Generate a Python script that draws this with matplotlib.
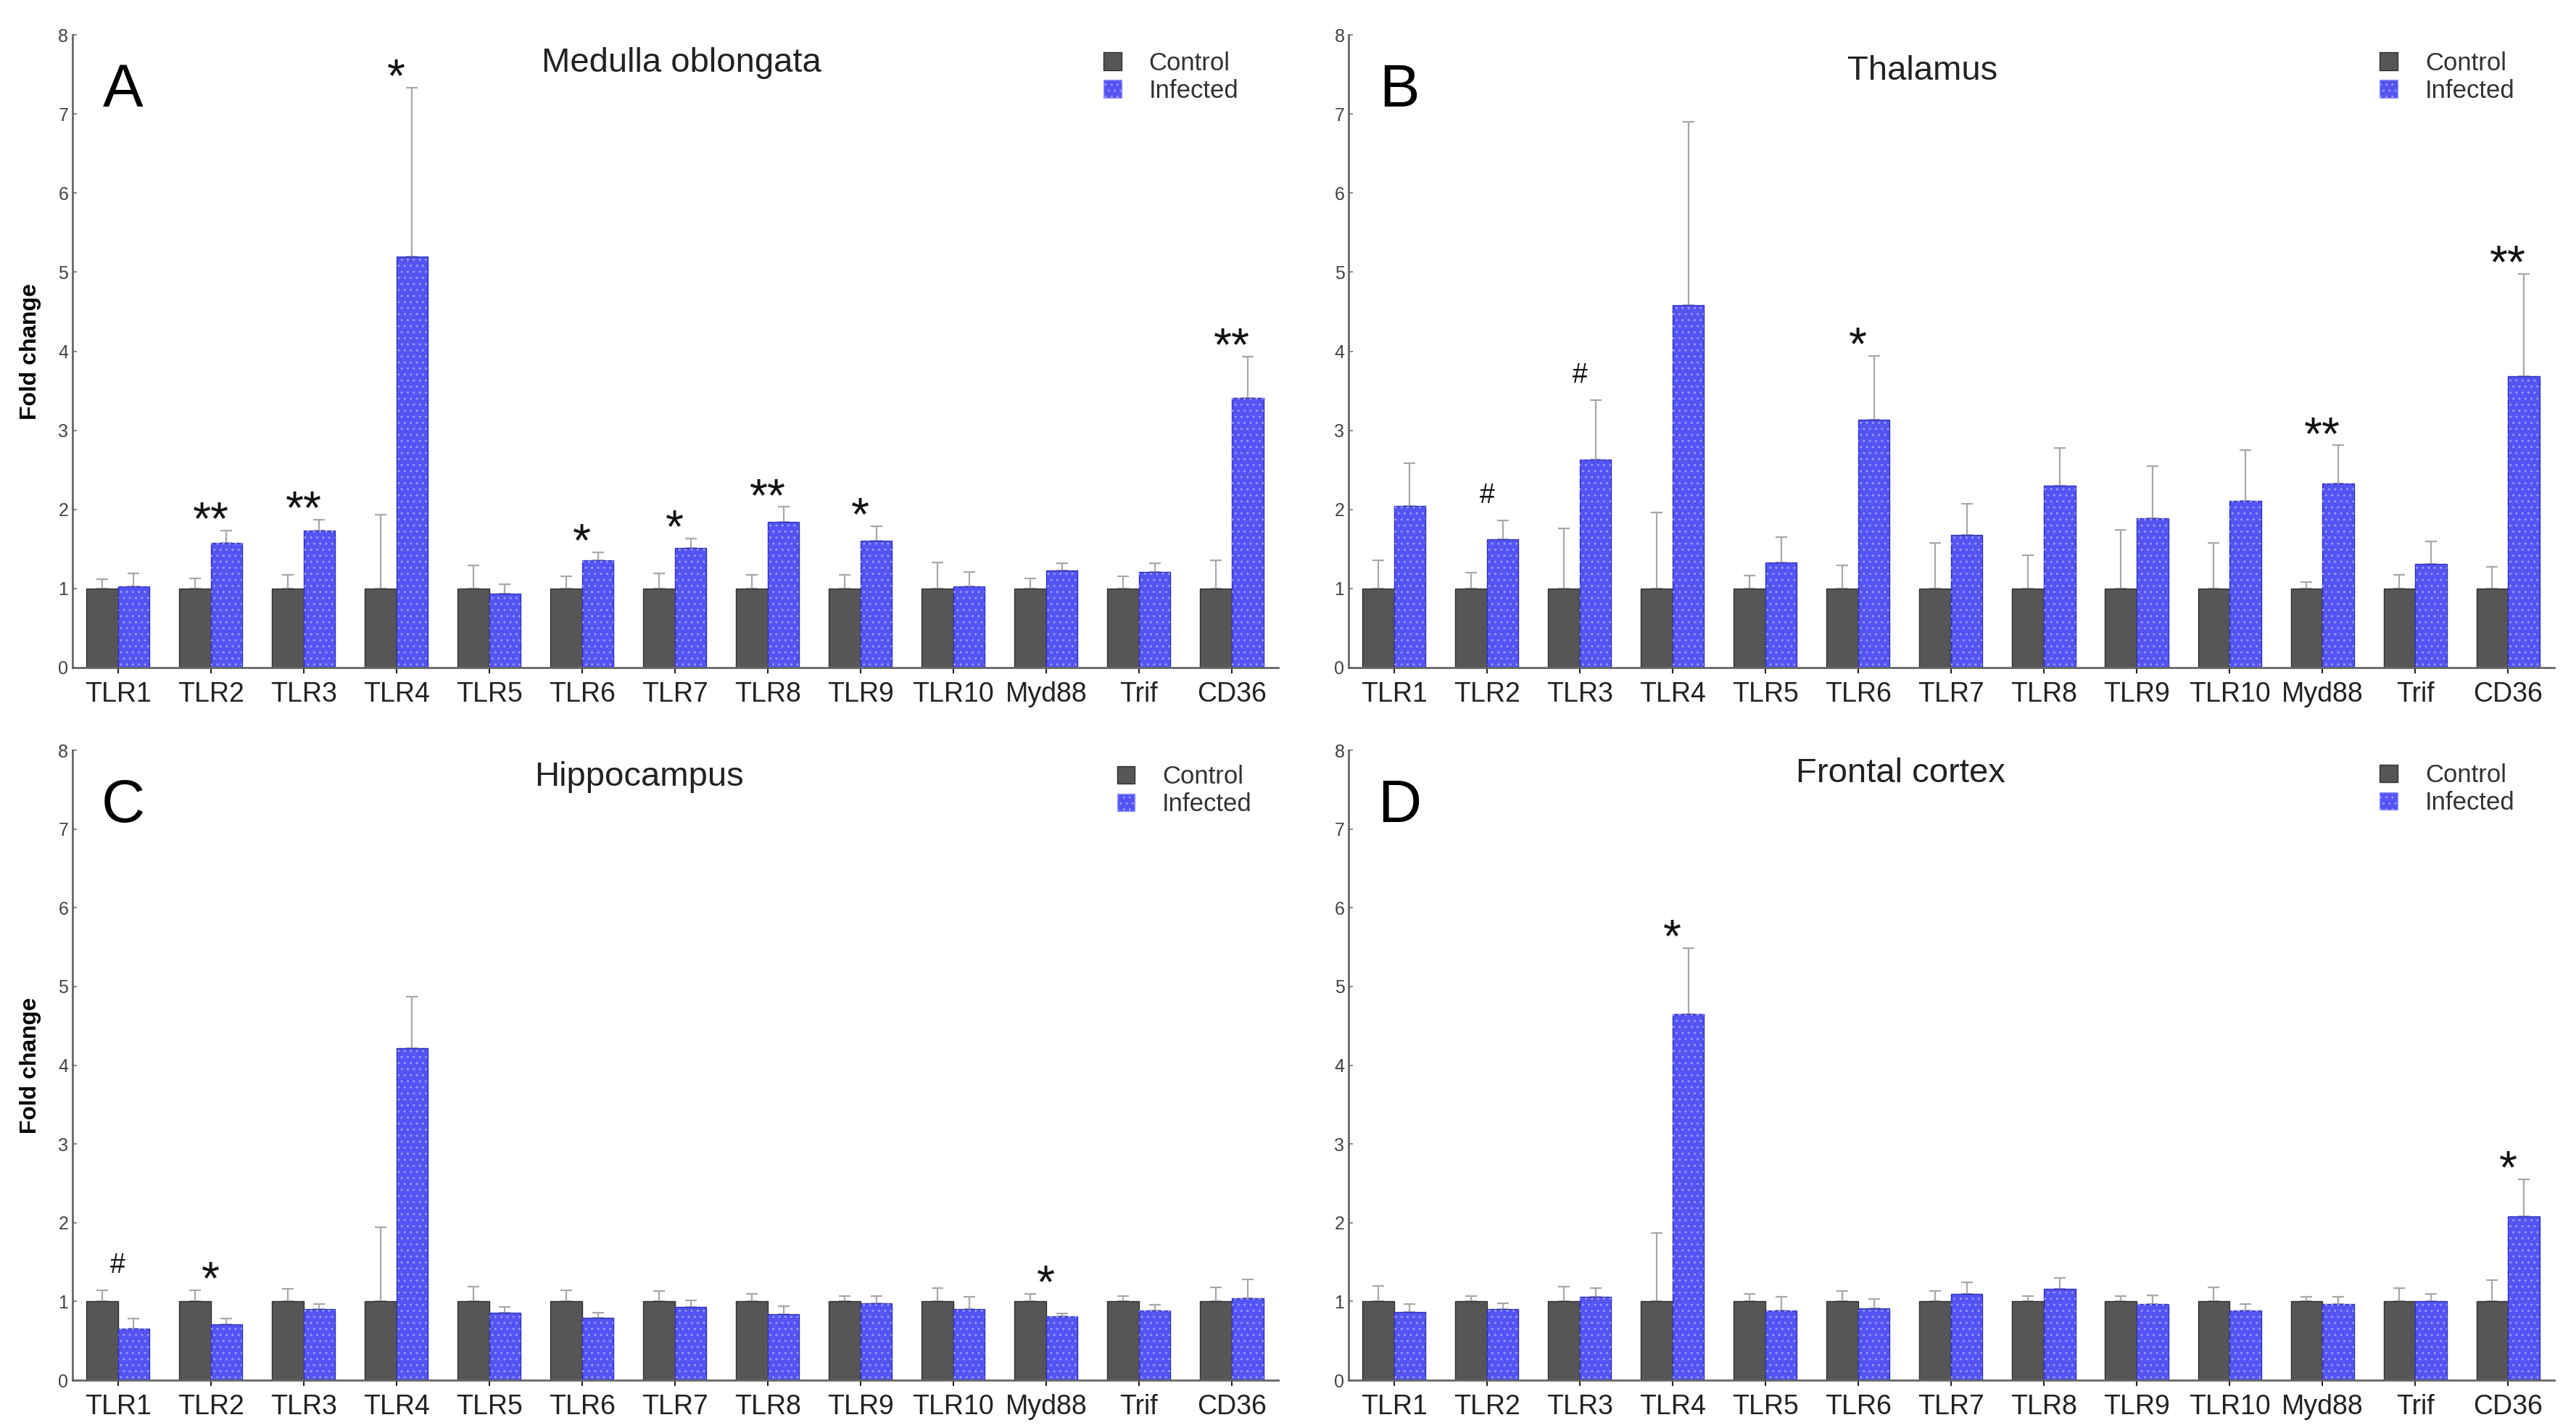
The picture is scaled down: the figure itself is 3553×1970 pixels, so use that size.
import numpy as np
import matplotlib
matplotlib.use("Agg")
import matplotlib.pyplot as plt
from matplotlib.patches import Patch

plt.rcParams['font.family'] = ['Liberation Sans', 'DejaVu Sans']

genes = ["TLR1", "TLR2", "TLR3", "TLR4", "TLR5", "TLR6", "TLR7",
         "TLR8", "TLR9", "TLR10", "Myd88", "Trif", "CD36"]
control = [1.0, 1.0, 1.0, 1.0, 1.0, 1.0, 1.0, 1.0, 1.0, 1.0, 1.0, 1.0, 1.0]

# A - Medulla oblongata
a_ctrl_err = [0.12, 0.13, 0.17, 0.93, 0.29, 0.15, 0.19, 0.17, 0.17, 0.33, 0.13, 0.15, 0.36]
a_inf = [1.03, 1.575, 1.735, 5.2, 0.93, 1.36, 1.51, 1.84, 1.60, 1.03, 1.23, 1.21, 3.41]
a_inf_err = [0.16, 0.155, 0.135, 2.13, 0.12, 0.10, 0.12, 0.19, 0.19, 0.18, 0.09, 0.11, 0.52]
a_sig = ["", "**", "**", "*", "", "*", "*", "**", "*", "", "", "", "**"]

# B - Thalamus
b_ctrl_err = [0.36, 0.20, 0.76, 0.96, 0.16, 0.29, 0.575, 0.42, 0.74, 0.575, 0.08, 0.17, 0.27]
b_inf = [2.04, 1.62, 2.63, 4.58, 1.33, 3.13, 1.68, 2.30, 1.89, 2.11, 2.33, 1.31, 3.68]
b_inf_err = [0.54, 0.24, 0.75, 2.32, 0.32, 0.81, 0.39, 0.48, 0.66, 0.64, 0.48, 0.28, 1.30]
b_sig = ["", "#", "#", "", "", "*", "", "", "", "", "**", "", "**"]

# C - Hippocampus
c_ctrl_err = [0.14, 0.14, 0.16, 0.94, 0.19, 0.14, 0.13, 0.10, 0.07, 0.17, 0.10, 0.07, 0.18]
c_inf = [0.65, 0.71, 0.90, 4.22, 0.86, 0.79, 0.93, 0.835, 0.98, 0.90, 0.81, 0.88, 1.04]
c_inf_err = [0.13, 0.07, 0.07, 0.65, 0.07, 0.07, 0.08, 0.105, 0.09, 0.16, 0.04, 0.08, 0.24]
c_sig = ["#", "*", "", "", "", "", "", "", "", "", "*", "", ""]

# D - Frontal cortex
d_ctrl_err = [0.20, 0.07, 0.19, 0.87, 0.10, 0.13, 0.13, 0.07, 0.07, 0.18, 0.06, 0.17, 0.27]
d_inf = [0.87, 0.90, 1.06, 4.65, 0.88, 0.91, 1.10, 1.16, 0.97, 0.88, 0.97, 1.00, 2.08]
d_inf_err = [0.10, 0.08, 0.11, 0.84, 0.18, 0.12, 0.14, 0.14, 0.11, 0.09, 0.09, 0.10, 0.47]
d_sig = ["", "", "", "*", "", "", "", "", "", "", "", "", "*"]

CTRL_COL = "#565656"
INF_COL = "#5454f4"
DOT_COL = "#9a9aff"
ERR_COL = "#a8a8a8"


def draw_panel(ax, title, letter, ctrl_err, inf, inf_err, sig, title_xy, leg_xy, ylabel):
    x = np.arange(len(genes))
    w = 0.34
    ax.bar(x, control, -w, align='edge', color=CTRL_COL, edgecolor="#303030",
           linewidth=1.0, zorder=2)
    ax.bar(x, inf, w, align='edge', color=INF_COL, edgecolor="#3030c0",
           linewidth=1.0, zorder=2)
    # dotted texture on infected bars
    ax.bar(x, inf, w, align='edge', color='none', edgecolor=DOT_COL,
           hatch='..', linewidth=0, zorder=3)
    ax.errorbar(x - w / 2, control, yerr=[np.zeros(len(genes)), ctrl_err],
                fmt='none', ecolor=ERR_COL, elinewidth=1.6, capsize=6, capthick=1.6, zorder=1)
    ax.errorbar(x + w / 2, inf, yerr=[np.zeros(len(genes)), inf_err],
                fmt='none', ecolor=ERR_COL, elinewidth=1.6, capsize=6, capthick=1.6, zorder=1)

    for i, s in enumerate(sig):
        if not s:
            continue
        top = max(control[i] + ctrl_err[i], inf[i] + inf_err[i])
        if s == "#":
            ax.text(x[i], top + 0.22, s, ha='center', va='baseline', fontsize=27, color='#111111')
        else:
            ax.text(x[i], top - 0.05, s, ha='center', va='baseline', fontsize=46, color='#111111')

    ax.set_xlim(-0.49, 12.5)
    ax.set_ylim(0, 8)
    ax.set_xticks(x)
    ax.set_xticklabels(genes, fontsize=27, color='#222222')
    ax.set_yticks(range(0, 9))
    ax.tick_params(axis='y', direction='in', length=4, width=1.2, labelsize=18,
                   colors='#777777', pad=4)
    ax.tick_params(axis='y', labelcolor='#444444')
    ax.tick_params(axis='x', direction='out', length=6, width=1.5, colors='#222222', pad=8)
    for side in ['top', 'right']:
        ax.spines[side].set_visible(False)
    for side in ['left', 'bottom']:
        ax.spines[side].set_color('#666666')
        ax.spines[side].set_linewidth(2.0)

    ax.text(title_xy[0], title_xy[1], title, transform=ax.transAxes, ha='center', va='center',
            fontsize=34, color='#222222')
    ax.text(0.042, 0.912, letter, transform=ax.transAxes, ha='center', va='center',
            fontsize=60, color='black')
    if ylabel:
        ax.set_ylabel("Fold change", fontsize=23, fontweight='bold')
        ax.yaxis.set_label_coords(-0.026, 0.5)

    handles = [Patch(facecolor=CTRL_COL, edgecolor='#303030', label='Control'),
               Patch(facecolor=INF_COL, edgecolor=DOT_COL, hatch='..', label='Infected')]
    ax.legend(handles=handles, loc='upper right', bbox_to_anchor=leg_xy,
              frameon=False, fontsize=25, handlelength=0.7, handleheight=0.7,
              handletextpad=1.1, labelspacing=0.15, labelcolor='#333333')


fig = plt.figure(figsize=(35.53, 19.70), dpi=100)
ax_a = fig.add_axes([0.0281, 0.5325, 0.4681, 0.4431])
ax_b = fig.add_axes([0.5235, 0.5325, 0.4681, 0.4431])
ax_c = fig.add_axes([0.0281, 0.0335, 0.4681, 0.4411])
ax_d = fig.add_axes([0.5235, 0.0335, 0.4681, 0.4411])

draw_panel(ax_a, "Medulla oblongata", "A", a_ctrl_err, a_inf, a_inf_err, a_sig,
           (0.505, 0.955), (0.986, 1.01), True)
draw_panel(ax_b, "Thalamus", "B", b_ctrl_err, b_inf, b_inf_err, b_sig,
           (0.476, 0.943), (0.986, 1.01), False)
draw_panel(ax_c, "Hippocampus", "C", c_ctrl_err, c_inf, c_inf_err, c_sig,
           (0.47, 0.957), (0.997, 1.013), True)
draw_panel(ax_d, "Frontal cortex", "D", d_ctrl_err, d_inf, d_inf_err, d_sig,
           (0.458, 0.963), (0.986, 1.015), False)

fig.savefig("out.png", dpi=100, facecolor='white')
